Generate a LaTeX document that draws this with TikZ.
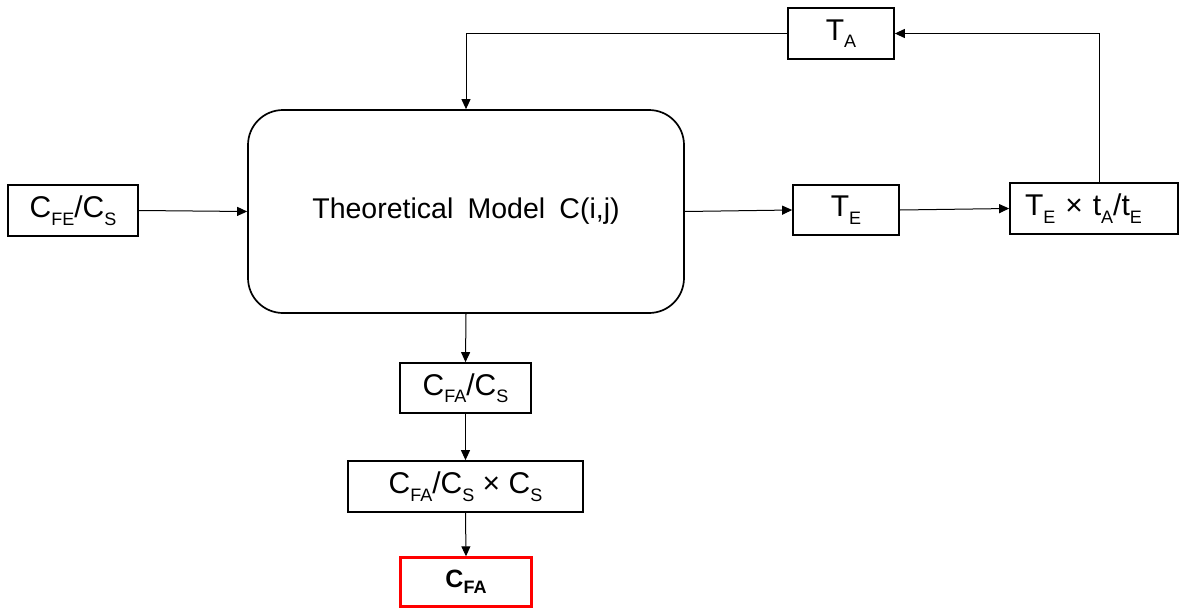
\documentclass[tikz,border=0pt]{standalone}
\usepackage{fontspec}
\setmainfont{Liberation Sans}
\usetikzlibrary{arrows.meta}
\newcommand\sbs[1]{\raisebox{-7.5pt}{\fontsize{18}{18}\selectfont #1}}
\newcommand\sbsb[1]{\raisebox{-6pt}{\fontsize{18}{18}\selectfont\bfseries #1}}
\begin{document}
\begin{tikzpicture}[x=1pt,y=-1pt,
  box/.style={draw, line width=1.7pt, inner sep=0pt, font=\fontsize{30}{34}\selectfont},
  conn/.style={line width=1pt, -{Triangle[length=10pt,width=9pt]}}]
\useasboundingbox (0,0) rectangle (1179,608);
\node[box, minimum width=130pt, minimum height=51pt] (cfe) at (73,210.5) {C\sbs{FE}/C\sbs{S}};
\node[box, rounded corners=35pt, minimum width=436pt, minimum height=203pt, font=\fontsize{28.5}{34}\selectfont] (main) at (466,211.5) {Theoretical\hspace{0.5em}Model\hspace{0.5em}C(i,j)};
\node[box, minimum width=106pt, minimum height=50pt] (te) at (846,210) {T\sbs{E}};
\node[box, minimum width=168pt, minimum height=51pt, text width=138pt, align=left] (tet) at (1094,208.5) {T\sbs{E} × t\sbs{A}/t\sbs{E}};
\node[box, minimum width=106pt, minimum height=51pt] (ta) at (841,33.5) {T\sbs{A}};
\node[box, minimum width=131pt, minimum height=50pt] (cfacs) at (465.5,388) {C\sbs{FA}/C\sbs{S}};
\node[box, minimum width=235pt, minimum height=51pt] (prod) at (465.5,486.5) {C\sbs{FA}/C\sbs{S} × C\sbs{S}};
\node[box, draw=red, line width=2.4pt, minimum width=131pt, minimum height=49pt, font=\fontsize{25}{28}\selectfont\bfseries] (cfa) at (466,582) {C\sbsb{FA}};
\draw[conn] (cfe.east) -- (main.west);
\draw[conn] (main.east) -- (te.west);
\draw[conn] (te.east) -- (tet.west);
\draw[conn] ([xshift=5pt]tet.north) |- (ta.east);
\draw[conn] (ta.west) -| (main.north);
\draw[conn] (main.south) -- (cfacs.north);
\draw[conn] (cfacs.south) -- (prod.north);
\draw[conn] (prod.south) -- (cfa.north);
\end{tikzpicture}
\end{document}
